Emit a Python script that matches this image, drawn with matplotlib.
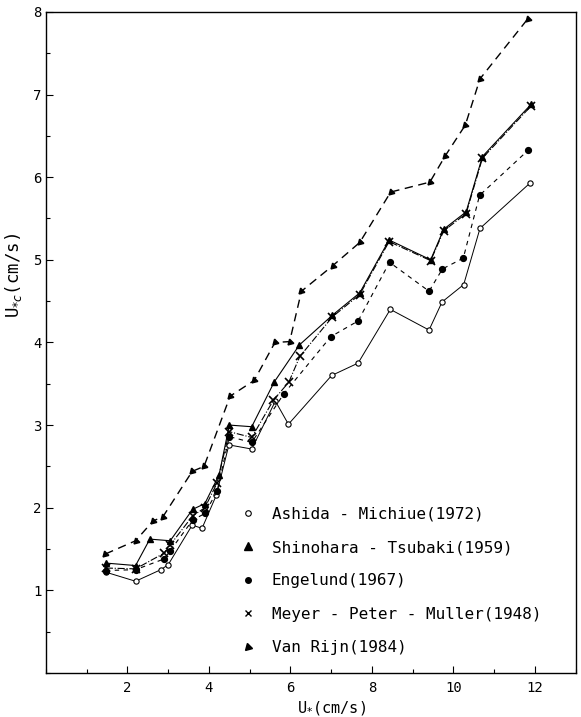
import matplotlib
matplotlib.use("Agg")
import matplotlib.pyplot as plt
from matplotlib.lines import Line2D
from matplotlib.ticker import MultipleLocator, FixedLocator

# ---- data (U* in cm/s vs U*c in cm/s) ----
ashida_x = [1.47, 2.2, 2.82, 3.0, 3.59, 3.83, 4.18, 4.49, 5.05, 5.63, 5.95,
            7.01, 7.66, 8.45, 9.4, 9.72, 10.25, 10.65, 11.88]
ashida_y = [1.22, 1.11, 1.25, 1.31, 1.79, 1.75, 2.15, 2.76, 2.71, 3.29, 3.01,
            3.60, 3.75, 4.40, 4.15, 4.49, 4.70, 5.38, 5.93]

shinohara_x = [1.47, 2.2, 2.55, 3.05, 3.6, 3.9, 4.25, 4.5, 5.05, 5.6, 6.22,
               7.03, 7.7, 8.42, 9.44, 9.76, 10.31, 10.71, 11.9]
shinohara_y = [1.33, 1.30, 1.62, 1.60, 1.98, 2.05, 2.40, 3.00, 2.98, 3.52, 3.97,
               4.33, 4.60, 5.24, 5.00, 5.37, 5.58, 6.25, 6.88]

engelund_x = [1.47, 2.2, 2.9, 3.05, 3.6, 3.9, 4.2, 4.5, 5.05, 5.84,
              6.99, 7.66, 8.43, 9.4, 9.73, 10.24, 10.64, 11.84]
engelund_y = [1.24, 1.25, 1.38, 1.48, 1.85, 1.93, 2.20, 2.86, 2.79, 3.38,
              4.07, 4.26, 4.97, 4.62, 4.89, 5.02, 5.78, 6.33]

meyer_x = [1.47, 2.2, 2.9, 3.05, 3.6, 3.9, 4.2, 4.5, 5.05, 5.58, 5.96, 6.23,
           7.03, 7.7, 8.42, 9.44, 9.76, 10.31, 10.71, 11.9]
meyer_y = [1.27, 1.26, 1.45, 1.55, 1.90, 2.00, 2.30, 2.92, 2.85, 3.30, 3.52, 3.83,
           4.31, 4.58, 5.22, 4.99, 5.35, 5.56, 6.23, 6.86]

vanrijn_x = [1.46, 2.2, 2.63, 2.87, 3.59, 3.88, 4.52, 5.11, 5.62, 5.98, 6.27,
             7.04, 7.7, 8.46, 9.42, 9.8, 10.29, 10.65, 11.83]
vanrijn_y = [1.44, 1.60, 1.84, 1.89, 2.44, 2.50, 3.35, 3.54, 4.00, 4.01, 4.62,
             4.93, 5.21, 5.82, 5.94, 6.26, 6.63, 7.19, 7.92]

labels = ["Ashida - Michiue(1972)",
          "Shinohara - Tsubaki(1959)",
          "Engelund(1967)",
          "Meyer - Peter - Muller(1948)",
          "Van Rijn(1984)"]

x_ticks = [2, 4, 6, 8, 10, 12]
y_ticks = [1, 2, 3, 4, 5, 6, 7, 8]

# ---- figure ----
plt.rcParams['font.family'] = ['DejaVu Sans Mono', 'DejaVu Sans']
plt.rcParams['mathtext.fontset'] = 'dejavusans'

fig = plt.figure(figsize=(5.81, 7.17), dpi=100)
ax = fig.add_axes([0.079, 0.0614, 0.912, 0.922])

k = 'black'
vr_marker = (3, 0, 135)

ax.plot(ashida_x, ashida_y, color=k, lw=0.7, ls='-',
        marker='o', ms=3.8, mfc='white', mec=k, mew=0.8)
ax.plot(shinohara_x, shinohara_y, color=k, lw=0.8, ls='-',
        marker='^', ms=4, mfc=k, mec=k)
ax.plot(engelund_x, engelund_y, color=k, lw=0.8, ls=(0, (4, 4)),
        marker='o', ms=4.2, mfc=k, mec=k)
ax.plot(meyer_x, meyer_y, color=k, lw=0.8, ls='-.',
        marker='x', ms=5.5, mew=1.2)
ax.plot(vanrijn_x, vanrijn_y, color=k, lw=1.0, ls=(0, (6, 4)),
        marker=vr_marker, ms=5, mfc=k, mec=k)

ax.set_xlim(0, 13)
ax.set_ylim(0, 8)

ax.xaxis.set_major_locator(FixedLocator(x_ticks))
ax.xaxis.set_minor_locator(MultipleLocator(1))
ax.yaxis.set_major_locator(FixedLocator(y_ticks))
ax.yaxis.set_minor_locator(MultipleLocator(0.5))
ax.tick_params(which='both', direction='in', top=False, right=False,
               labelsize=10, width=0.8)
ax.tick_params(which='major', length=5)
ax.tick_params(which='minor', length=3)
ax.tick_params(axis='x', pad=6)
ax.tick_params(axis='y', pad=3)
for s in ax.spines.values():
    s.set_linewidth(1.0)

# legend: markers only
handles = [
    Line2D([], [], ls='none', marker='o', ms=4, mfc='white', mec=k, mew=0.8),
    Line2D([], [], ls='none', marker='^', ms=6, mfc=k, mec=k),
    Line2D([], [], ls='none', marker='o', ms=4, mfc=k, mec=k),
    Line2D([], [], ls='none', marker='x', ms=5, mec=k, mew=1.0),
    Line2D([], [], ls='none', marker=vr_marker, ms=6, mfc=k, mec=k),
]
ax.legend(handles, labels, loc='lower left', bbox_to_anchor=(0.366, 0.027),
          frameon=False, borderpad=0, borderaxespad=0, handlelength=1.0,
          handletextpad=1.0, labelspacing=1.15, prop={'size': 11.5})

fig.text(13 / 581, 1 - 275 / 717, r"U$_{*c}$(cm/s)", rotation=90,
         ha='center', va='center', fontsize=12.5)
fig.text(331 / 581, 1 - 708 / 717, r"U$_{*}$(cm/s)",
         ha='center', va='center', fontsize=11)

fig.savefig("out.png", dpi=100)
